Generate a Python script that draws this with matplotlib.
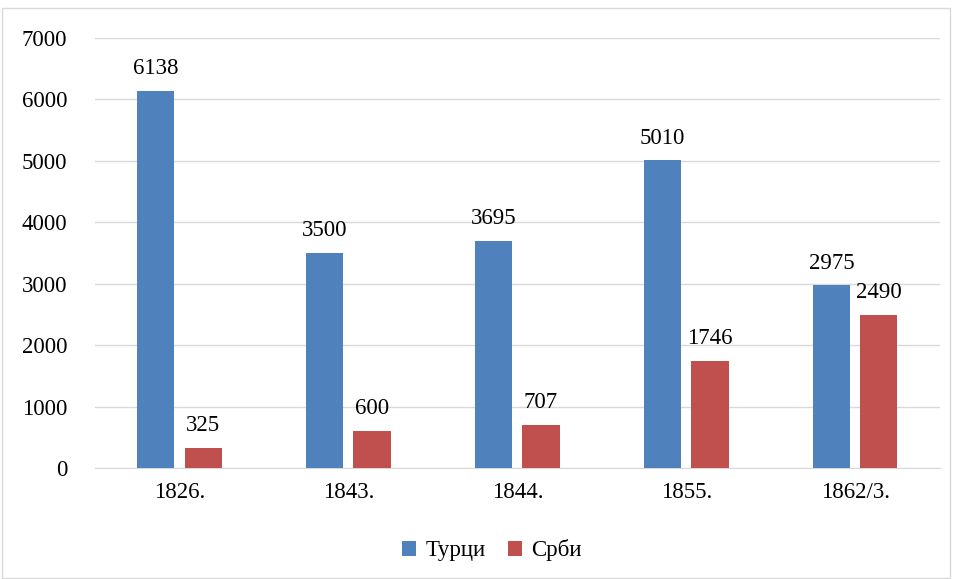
import matplotlib.pyplot as plt
import numpy as np
from matplotlib.patches import Rectangle

years = ['1826.', '1843.', '1844.', '1855.', '1862/3.']
turci = [6138, 3500, 3695, 5010, 2975]
srbi = [325, 600, 707, 1746, 2490]

plt.rcParams['font.family'] = ['Liberation Serif', 'DejaVu Serif']

fig = plt.figure(figsize=(9.54, 5.79), dpi=100)
ax = fig.add_axes([0.0996, 0.1917, 0.8854, 0.7427])

x = np.arange(len(years))
w = 0.22
b1 = ax.bar(x - w / 2 - 0.03, turci, w, color='#4F81BD', label='Турци', zorder=3)
b2 = ax.bar(x + w / 2 + 0.03, srbi, w, color='#C0504D', label='Срби', zorder=3)

for bars in (b1, b2):
    for r in bars:
        ax.text(r.get_x() + r.get_width() / 2, r.get_height() + 190, str(int(r.get_height())),
                ha='center', va='bottom', fontsize=16.5)

ax.set_xlim(-0.5, len(years) - 0.5)
ax.set_ylim(0, 7000)
ax.set_yticks(range(0, 7001, 1000))
ax.set_xticks(x)
ax.set_xticklabels(years)
ax.tick_params(axis='both', length=0, labelsize=16.5)
ax.tick_params(axis='y', pad=20)
ax.tick_params(axis='x', pad=10)
ax.grid(axis='y', color='#D9D9D9', linewidth=1, zorder=0)
for s in ['top', 'right', 'left']:
    ax.spines[s].set_visible(False)
ax.spines['bottom'].set_color('#D9D9D9')

ax.legend(loc='upper center', bbox_to_anchor=(0.47, -0.118), ncol=2, frameon=False,
          fontsize=16.5, handlelength=0.6, handleheight=0.6, columnspacing=1.0, handletextpad=0.4)

fig.patches.append(Rectangle((0.002, 0.002), 0.994, 0.984, transform=fig.transFigure,
                             fill=False, edgecolor='#D9D9D9', linewidth=1))

fig.savefig('out.png', dpi=100)
